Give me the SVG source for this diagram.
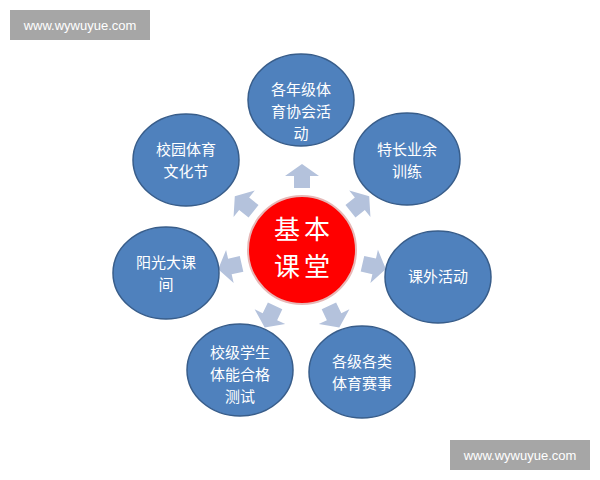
<svg xmlns="http://www.w3.org/2000/svg" width="600" height="480" viewBox="0 0 600 480">
<style>
.n{fill:#4f81bd;stroke:#385d8a;stroke-width:1.5}
.t{font-family:"Noto Sans CJK SC",sans-serif;font-size:15px;fill:#fff;text-anchor:middle}
.w{font-family:"Liberation Sans",sans-serif;font-size:13px;fill:#fff;text-anchor:middle}
.a{fill:#b4c2dc}
.c{font-family:"Noto Sans CJK SC",sans-serif;font-size:26px;fill:#fff;text-anchor:middle;letter-spacing:4px}
</style>
<defs><path id="ar" d="M-8,0 L-8,-12 L-17,-12 L0,-24 L17,-12 L8,-12 L8,0 Z"/></defs>
<rect width="600" height="480" fill="#fff"/>
<rect x="10" y="10" width="140" height="30" fill="#a6a6a6"/>
<text class="w" x="80" y="30">www.wywuyue.com</text>
<rect x="450" y="440" width="140" height="30" fill="#a6a6a6"/>
<text class="w" x="520" y="460">www.wywuyue.com</text>
<g id="connectors" class="a">
<use href="#ar" transform="translate(302,250) rotate(0) translate(0,-62)"/>
<use href="#ar" transform="translate(302,250) rotate(51.4) translate(0,-62)"/>
<use href="#ar" transform="translate(302,250) rotate(102.8) translate(0,-62)"/>
<use href="#ar" transform="translate(302,250) rotate(154.3) translate(0,-62)"/>
<use href="#ar" transform="translate(302,250) rotate(205.7) translate(0,-62)"/>
<use href="#ar" transform="translate(302,250) rotate(257.1) translate(0,-62)"/>
<use href="#ar" transform="translate(302,250) rotate(308.6) translate(0,-62)"/>
</g>
<g id="center"><circle cx="302" cy="250" r="54" fill="#ff0000" stroke="#e6b8b7" stroke-width="2"/>
<text class="c" x="304" y="239">基本</text>
<text class="c" x="304" y="276">课堂</text></g>
<g id="n1"><ellipse class="n" cx="301" cy="100" rx="53" ry="46"/><text class="t" x="301" y="95">各年级体</text><text class="t" x="301" y="117">育协会活</text><text class="t" x="301" y="139">动</text></g>
<g id="n2"><ellipse class="n" cx="407" cy="159" rx="53" ry="46"/><text class="t" x="407" y="155">特长业余</text><text class="t" x="407" y="177">训练</text></g>
<g id="n3"><ellipse class="n" cx="438" cy="277" rx="53" ry="46"/><text class="t" x="438" y="282">课外活动</text></g>
<g id="n4"><ellipse class="n" cx="362" cy="372" rx="53" ry="46"/><text class="t" x="362" y="367">各级各类</text><text class="t" x="362" y="389">体育赛事</text></g>
<g id="n5"><ellipse class="n" cx="240" cy="370" rx="53" ry="46"/><text class="t" x="240" y="358">校级学生</text><text class="t" x="240" y="380">体能合格</text><text class="t" x="240" y="402">测试</text></g>
<g id="n6"><ellipse class="n" cx="166" cy="273" rx="53" ry="46"/><text class="t" x="166" y="268">阳光大课</text><text class="t" x="166" y="290">间</text></g>
<g id="n7"><ellipse class="n" cx="186" cy="160" rx="53" ry="46"/><text class="t" x="186" y="155">校园体育</text><text class="t" x="186" y="177">文化节</text></g>
</svg>
